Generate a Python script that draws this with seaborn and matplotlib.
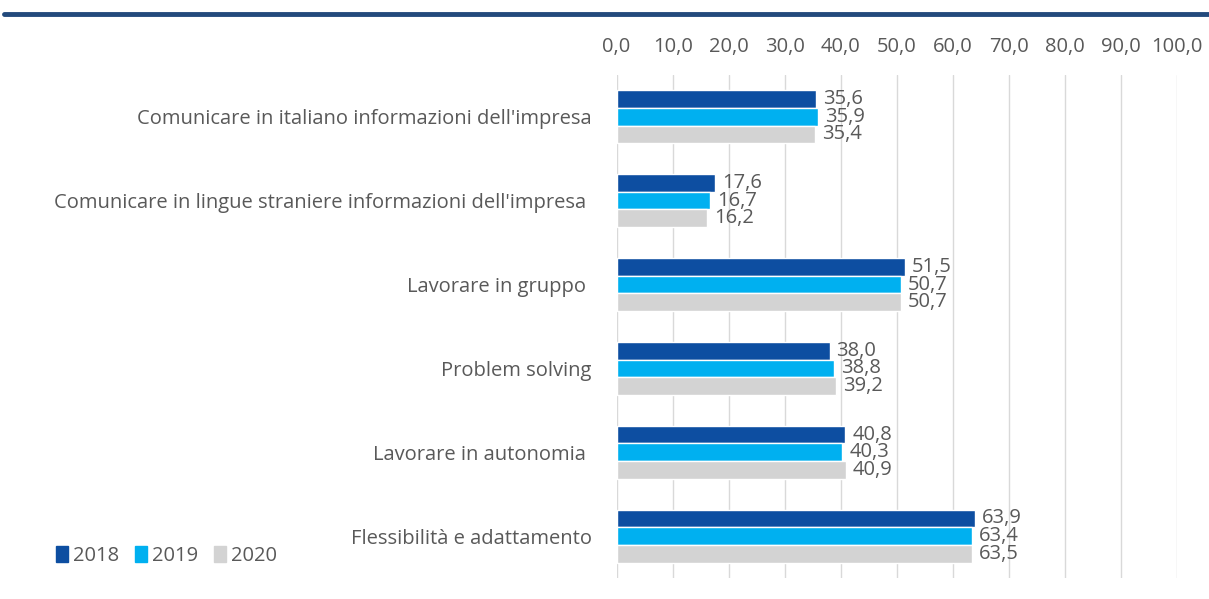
import matplotlib
matplotlib.use('Agg')
import matplotlib.pyplot as plt
import seaborn as sns
import pandas as pd
from matplotlib.ticker import FuncFormatter
from matplotlib.patches import Patch

sns.set_style('white')
plt.rcParams['font.family'] = ['Open Sans', 'DejaVu Sans']

# dati
categorie = [
    "Comunicare in italiano informazioni dell'impresa",
    "Comunicare in lingue straniere informazioni dell'impresa ",
    "Lavorare in gruppo ",
    "Problem solving",
    "Lavorare in autonomia ",
    "Flessibilità e adattamento",
]
anni = ['2018', '2019', '2020']
v2018 = [35.6, 17.6, 51.5, 38.0, 40.8, 63.9]
v2019 = [35.9, 16.7, 50.7, 38.8, 40.3, 63.4]
v2020 = [35.4, 16.2, 50.7, 39.2, 40.9, 63.5]
colori = ['#0D4EA1', '#00B0F0', '#D3D3D3']

df = pd.DataFrame({
    'categoria': categorie * 3,
    'anno': [a for a in anni for _ in categorie],
    'valore': v2018 + v2019 + v2020,
})

fig = plt.figure(figsize=(12.09, 5.99), dpi=100)
ax = fig.add_axes([0.510, 0.035, 0.4635, 0.84])

sns.barplot(data=df, y='categoria', x='valore', hue='anno', order=categorie,
            hue_order=anni, palette=colori, orient='h', width=0.63,
            saturation=1, ax=ax, legend=False)

txt = '#595959'
fs = 14.5
for cont in ax.containers:
    ax.bar_label(cont, labels=[f'{b.get_width():.1f}'.replace('.', ',') for b in cont],
                 padding=5, fontsize=fs, color=txt)

ax.set_xlim(0, 100)
ax.set_xticks(range(0, 101, 10))
ax.xaxis.set_major_formatter(FuncFormatter(lambda v, p: f'{v:.1f}'.replace('.', ',')))
ax.xaxis.tick_top()
ax.tick_params(axis='x', length=0, pad=13, labelsize=fs, labelcolor=txt)
ax.tick_params(axis='y', length=0, pad=18, labelsize=fs, labelcolor=txt)
ax.set_xlabel('')
ax.set_ylabel('')
ax.grid(axis='x', color='#D9D9D9', linewidth=1)
ax.set_axisbelow(True)
for s in ax.spines.values():
    s.set_visible(False)

# linea blu in alto
fig.add_artist(plt.Line2D([0.003, 1.0], [0.976, 0.976], color='#234A7C', linewidth=3.5,
                          transform=fig.transFigure))

handles = [Patch(color=c, label=a) for c, a in zip(colori, anni)]
fig.legend(handles=handles, loc='center left', bbox_to_anchor=(0.031, 0.072), ncol=3,
           frameon=False, fontsize=fs, handlelength=0.6, handleheight=0.8,
           handletextpad=0.25, columnspacing=0.8, labelcolor=txt)

fig.savefig('out.png', dpi=100)
